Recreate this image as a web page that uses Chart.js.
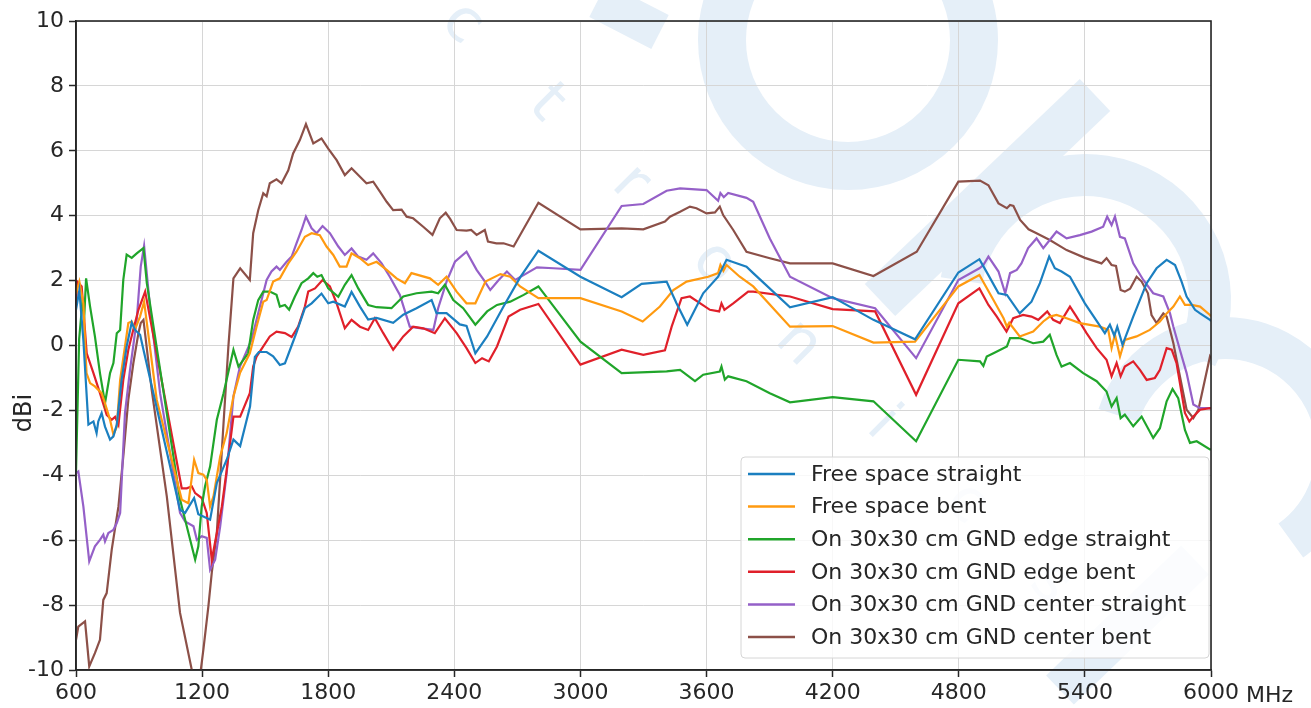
<!DOCTYPE html>
<html>
<head>
<meta charset="utf-8">
<script src="https://cdn.jsdelivr.net/npm/chart.js@4.4.1/dist/chart.umd.min.js"></script>
<style>
  html, body { margin: 0; padding: 0; background: #fff; }
  #wrap { width: 1311px; height: 708px; }
</style>
</head>
<body>
<div id="wrap"><canvas id="gainChart" width="1311" height="708"></canvas></div>
<script>
// Series labels and colours
const seriesNames = [
    'Free space straight',
    'Free space bent',
    'On 30x30 cm GND edge straight',
    'On 30x30 cm GND edge bent',
    'On 30x30 cm GND center straight',
    'On 30x30 cm GND center bent'
];
const seriesColors = ['#1b7fc0', '#ff9a10', '#20a52a', '#e0202a', '#9560c8', '#8c5048'];

// Axis ticks
const xTicks = [600, 1200, 1800, 2400, 3000, 3600, 4200, 4800, 5400, 6000];
const yTicks = [-10, -8, -6, -4, -2, 0, 2, 4, 6, 8, 10];
const xUnit = 'MHz';
const yTitle = 'dBi';

// Free space straight
const fsStraightMHz = [600, 616, 635, 659, 683, 698, 706, 722, 738, 762, 778, 794, 817, 841, 865, 881, 905, 921, 1095, 1119, 1162, 1182, 1206, 1238, 1270, 1317, 1349, 1381, 1428, 1451, 1470, 1507, 1538, 1570, 1594, 1626, 1649, 1689, 1721, 1768, 1800, 1824, 1879, 1911, 1951, 1990, 2030, 2109, 2157, 2220, 2292, 2315, 2363, 2426, 2458, 2500, 2556, 2634, 2713, 2800, 3000, 3196, 3291, 3410, 3457, 3508, 3584, 3655, 3695, 3790, 3822, 3997, 4200, 4394, 4592, 4798, 4898, 4941, 4989, 5029, 5090, 5146, 5186, 5230, 5257, 5289, 5329, 5400, 5495, 5519, 5540, 5554, 5579, 5630, 5694, 5741, 5789, 5829, 5860, 5884, 5924, 5948, 5995, 6000];
const fsStraightDbi = [1.1, 1.7, 0.17, -2.44, -2.34, -2.7, -2.34, -2.08, -2.5, -2.9, -2.8, -2.44, -1.06, -0.03, 0.71, 0.48, 0.33, -0.13, -5.06, -5.16, -4.7, -5.2, -5.27, -5.37, -4.24, -3.52, -2.9, -3.1, -1.88, -0.35, -0.2, -0.2, -0.33, -0.6, -0.55, 0, 0.4, 1.15, 1.3, 1.6, 1.3, 1.35, 1.2, 1.65, 1.2, 0.8, 0.85, 0.7, 0.95, 1.15, 1.4, 1.0, 1.0, 0.65, 0.6, -0.24, 0.28, 1.2, 2.1, 2.92, 2.12, 1.49, 1.9, 1.97, 1.3, 0.64, 1.61, 2.12, 2.64, 2.43, 2.23, 1.18, 1.49, 0.79, 0.19, 2.25, 2.66, 2.17, 1.61, 1.56, 0.99, 1.35, 1.92, 2.74, 2.38, 2.28, 2.12, 1.3, 0.38, 0.64, 0.3, 0.58, 0.02, 0.89, 1.92, 2.38, 2.64, 2.48, 1.97, 1.51, 1.1, 0.99, 0.79, 0.75];

// Free space bent
const fsBentMHz = [600, 616, 635, 650, 667, 690, 722, 738, 762, 778, 794, 810, 833, 849, 865, 881, 905, 924, 984, 1103, 1135, 1162, 1182, 1206, 1222, 1238, 1254, 1286, 1317, 1349, 1380, 1427, 1459, 1491, 1507, 1538, 1570, 1610, 1649, 1689, 1721, 1760, 1792, 1824, 1855, 1887, 1911, 1951, 1990, 2030, 2078, 2125, 2165, 2196, 2284, 2323, 2363, 2411, 2458, 2500, 2548, 2619, 2666, 2713, 2800, 3000, 3196, 3296, 3378, 3442, 3505, 3608, 3655, 3666, 3680, 3695, 3758, 3822, 3997, 4200, 4394, 4592, 4798, 4898, 4965, 5013, 5029, 5040, 5090, 5154, 5202, 5233, 5265, 5313, 5376, 5471, 5511, 5527, 5543, 5567, 5590, 5646, 5709, 5757, 5789, 5821, 5852, 5876, 5908, 5948, 5995, 6000];
const fsBentDbi = [1.6, 1.97, 1.3, -0.85, -1.16, -1.26, -1.47, -1.78, -2.29, -2.75, -2.5, -1.06, -0.03, 0.69, 0.74, 0.5, 0.9, 1.35, -1.67, -4.75, -4.86, -3.52, -3.93, -3.98, -4.14, -4.96, -4.65, -3.42, -2.7, -1.57, -0.85, -0.24, 0.58, 1.35, 1.4, 1.97, 2.07, 2.53, 2.89, 3.35, 3.46, 3.4, 3.05, 2.79, 2.43, 2.43, 2.84, 2.69, 2.48, 2.58, 2.33, 2.07, 1.92, 2.23, 2.07, 1.87, 2.12, 1.66, 1.3, 1.3, 1.97, 2.2, 2.12, 1.82, 1.46, 1.46, 1.05, 0.74, 1.2, 1.71, 1.97, 2.12, 2.23, 2.48, 2.3, 2.48, 2.12, 1.82, 0.58, 0.6, 0.09, 0.12, 1.82, 2.17, 1.4, 0.84, 0.58, 0.7, 0.28, 0.43, 0.74, 0.89, 0.94, 0.84, 0.69, 0.58, 0.48, -0.08, 0.33, -0.34, 0.17, 0.28, 0.48, 0.74, 0.99, 1.2, 1.51, 1.25, 1.25, 1.2, 0.94, 0.9];

// On 30x30 cm GND edge straight
const edgeStraightMHz = [600, 615, 630, 640, 648, 667, 690, 714, 738, 762, 778, 794, 810, 825, 841, 865, 889, 921, 937, 1095, 1167, 1182, 1198, 1214, 1238, 1270, 1302, 1349, 1373, 1419, 1443, 1467, 1491, 1522, 1554, 1570, 1594, 1614, 1641, 1673, 1705, 1729, 1748, 1768, 1800, 1848, 1879, 1911, 1943, 1990, 2030, 2101, 2157, 2220, 2292, 2323, 2355, 2395, 2442, 2500, 2556, 2603, 2666, 2730, 2800, 3000, 3196, 3410, 3474, 3545, 3584, 3663, 3671, 3687, 3703, 3790, 3901, 3997, 4200, 4394, 4597, 4798, 4901, 4917, 4933, 4965, 5029, 5044, 5090, 5154, 5202, 5233, 5265, 5289, 5329, 5392, 5456, 5503, 5527, 5551, 5570, 5590, 5630, 5670, 5725, 5757, 5789, 5817, 5844, 5876, 5900, 5932, 5995, 6000];
const edgeStraightDbi = [-3.9, 0.2, 1.3, 1.0, 2.07, 1.2, 0.28, -0.85, -1.78, -0.85, -0.54, 0.38, 0.48, 2.02, 2.8, 2.7, 2.84, 3.0, 1.92, -4.75, -6.6, -6.19, -4.96, -4.34, -3.73, -2.29, -1.47, -0.13, -0.65, -0.24, 0.79, 1.4, 1.66, 1.66, 1.56, 1.2, 1.25, 1.1, 1.5, 1.92, 2.07, 2.23, 2.12, 2.17, 1.76, 1.5, 1.87, 2.17, 1.76, 1.25, 1.18, 1.15, 1.51, 1.61, 1.66, 1.61, 1.87, 1.4, 1.15, 0.64, 1.05, 1.25, 1.35, 1.56, 1.82, 0.12, -0.85, -0.8, -0.75, -1.1, -0.9, -0.8, -0.65, -1.05, -0.95, -1.1, -1.47, -1.75, -1.59, -1.72, -2.95, -0.44, -0.49, -0.63, -0.34, -0.24, -0.03, 0.23, 0.23, 0.07, 0.12, 0.33, -0.29, -0.65, -0.54, -0.85, -1.1, -1.42, -1.88, -1.62, -2.24, -2.13, -2.49, -2.19, -2.85, -2.55, -1.72, -1.34, -1.62, -2.6, -3.0, -2.95, -3.2, -3.2];

// On 30x30 cm GND edge bent
const edgeBentMHz = [600, 606, 627, 651, 683, 714, 746, 770, 786, 802, 825, 849, 873, 897, 929, 1103, 1127, 1151, 1167, 1198, 1222, 1246, 1270, 1294, 1317, 1349, 1381, 1427, 1443, 1459, 1491, 1522, 1554, 1594, 1626, 1657, 1689, 1705, 1737, 1773, 1808, 1840, 1879, 1911, 1951, 1990, 2022, 2062, 2109, 2157, 2204, 2252, 2307, 2355, 2411, 2458, 2500, 2532, 2564, 2603, 2658, 2713, 2800, 3000, 3196, 3299, 3402, 3434, 3481, 3521, 3616, 3660, 3671, 3685, 3727, 3798, 3822, 3997, 4200, 4402, 4597, 4798, 4898, 4941, 4981, 5027, 5059, 5106, 5146, 5178, 5221, 5249, 5281, 5329, 5360, 5408, 5456, 5503, 5527, 5551, 5570, 5590, 5630, 5662, 5694, 5733, 5757, 5789, 5813, 5836, 5876, 5897, 5916, 5948, 5995, 6000];
const edgeBentDbi = [1.3, 1.97, 1.82, -0.24, -0.85, -1.47, -2.14, -2.29, -2.2, -2.44, -1.06, -0.13, 0.5, 1.1, 1.66, -4.4, -4.4, -4.34, -4.55, -4.7, -5.16, -6.6, -5.78, -4.96, -3.83, -2.19, -2.19, -1.47, -0.65, -0.34, -0.03, 0.28, 0.43, 0.38, 0.26, 0.58, 1.2, 1.66, 1.76, 2.02, 1.82, 1.3, 0.53, 0.79, 0.58, 0.48, 0.84, 0.38, -0.13, 0.28, 0.58, 0.53, 0.38, 0.84, 0.38, -0.08, -0.54, -0.39, -0.49, -0.03, 0.89, 1.1, 1.28, -0.59, -0.13, -0.29, -0.15, 0.58, 1.46, 1.51, 1.1, 1.05, 1.3, 1.1, 1.3, 1.66, 1.66, 1.51, 1.12, 1.05, -1.52, 1.3, 1.76, 1.25, 0.89, 0.43, 0.84, 0.94, 0.89, 0.79, 1.05, 0.79, 0.69, 1.2, 0.89, 0.38, -0.08, -0.44, -0.95, -0.54, -0.95, -0.65, -0.49, -0.75, -1.06, -1.0, -0.75, -0.08, -0.13, -0.54, -2.08, -2.34, -2.19, -1.98, -1.93, -1.95];

// On 30x30 cm GND center straight
const centerStraightMHz = [600, 611, 635, 663, 690, 714, 730, 738, 754, 778, 794, 810, 833, 857, 889, 908, 924, 952, 1000, 1095, 1119, 1159, 1175, 1198, 1222, 1238, 1262, 1286, 1317, 1349, 1380, 1435, 1475, 1507, 1530, 1554, 1570, 1602, 1626, 1649, 1673, 1694, 1721, 1745, 1773, 1808, 1848, 1879, 1911, 1943, 1982, 2014, 2054, 2093, 2141, 2188, 2244, 2300, 2323, 2363, 2403, 2458, 2506, 2540, 2571, 2611, 2650, 2690, 2793, 2872, 3000, 3196, 3299, 3410, 3474, 3600, 3655, 3666, 3682, 3703, 3790, 3822, 3901, 3997, 4200, 4402, 4597, 4798, 4898, 4917, 4941, 4989, 5021, 5044, 5076, 5098, 5130, 5170, 5202, 5233, 5265, 5313, 5376, 5432, 5487, 5506, 5527, 5543, 5567, 5590, 5630, 5678, 5725, 5773, 5805, 5821, 5852, 5884, 5916, 5948, 5995, 6000];
const centerStraightDbi = [-3.93, -3.88, -4.96, -6.65, -6.19, -5.99, -5.83, -6.04, -5.78, -5.68, -5.47, -5.16, -2.08, -0.75, 0.79, 2.43, 3.07, 1.2, -1.47, -5.16, -5.42, -5.57, -5.99, -5.88, -5.93, -6.91, -6.6, -5.57, -3.93, -1.57, -0.65, 0.17, 1.2, 2.02, 2.28, 2.43, 2.33, 2.58, 2.74, 3.15, 3.56, 3.97, 3.61, 3.46, 3.68, 3.46, 3.05, 2.79, 2.99, 2.74, 2.64, 2.84, 2.53, 2.12, 1.56, 0.58, 0.53, 0.48, 1.15, 1.97, 2.58, 2.89, 2.33, 2.02, 1.71, 2.02, 2.28, 2.02, 2.41, 2.38, 2.33, 4.3, 4.36, 4.77, 4.84, 4.79, 4.46, 4.7, 4.57, 4.7, 4.55, 4.43, 3.3, 2.12, 1.46, 1.15, -0.39, 2.02, 2.38, 2.48, 2.74, 2.28, 1.61, 2.23, 2.33, 2.53, 3.0, 3.3, 3.0, 3.25, 3.51, 3.3, 3.4, 3.51, 3.66, 3.97, 3.71, 3.97, 3.35, 3.3, 2.53, 2.02, 1.61, 1.51, 0.99, 0.58, -0.13, -0.85, -1.82, -1.93, -1.93, -1.93];

// On 30x30 cm GND center bent
const centerBentMHz = [600, 611, 643, 663, 690, 714, 730, 746, 770, 802, 825, 849, 873, 897, 908, 921, 960, 1032, 1095, 1151, 1170, 1190, 1206, 1230, 1246, 1270, 1302, 1325, 1349, 1381, 1427, 1443, 1467, 1491, 1507, 1522, 1554, 1578, 1610, 1633, 1665, 1694, 1729, 1768, 1800, 1840, 1879, 1911, 1951, 1982, 2014, 2046, 2078, 2109, 2149, 2173, 2204, 2252, 2296, 2331, 2359, 2380, 2411, 2458, 2480, 2506, 2545, 2560, 2600, 2634, 2682, 2800, 3000, 3196, 3299, 3402, 3426, 3474, 3521, 3552, 3600, 3640, 3663, 3679, 3727, 3790, 3901, 3997, 4200, 4394, 4600, 4798, 4901, 4941, 4989, 5029, 5044, 5060, 5092, 5132, 5170, 5233, 5313, 5400, 5479, 5503, 5527, 5548, 5570, 5590, 5615, 5646, 5670, 5700, 5717, 5741, 5773, 5789, 5821, 5852, 5884, 5916, 5940, 5995, 6000];
const centerBentDbi = [-9.07, -8.66, -8.5, -9.89, -9.48, -9.07, -7.84, -7.63, -6.29, -4.96, -3.42, -1.67, -0.54, 0.38, 0.69, 0.79, -1.36, -4.65, -8.24, -10.0, -10.4, -10.2, -9.37, -8.03, -7.0, -5.78, -2.39, -0.03, 2.07, 2.38, 2.02, 3.46, 4.17, 4.69, 4.6, 5.0, 5.12, 5.0, 5.4, 5.92, 6.33, 6.82, 6.23, 6.38, 6.07, 5.71, 5.25, 5.46, 5.2, 5.0, 5.05, 4.74, 4.43, 4.17, 4.19, 3.97, 3.92, 3.66, 3.41, 3.92, 4.09, 3.9, 3.56, 3.54, 3.56, 3.41, 3.56, 3.2, 3.15, 3.15, 3.05, 4.4, 3.58, 3.61, 3.58, 3.82, 3.97, 4.12, 4.28, 4.23, 4.07, 4.1, 4.28, 4.02, 3.56, 2.89, 2.69, 2.53, 2.53, 2.14, 2.89, 5.05, 5.08, 4.94, 4.38, 4.23, 4.33, 4.3, 3.87, 3.58, 3.46, 3.25, 2.94, 2.7, 2.53, 2.69, 2.48, 2.45, 1.71, 1.66, 1.75, 2.12, 1.97, 1.61, 0.94, 0.69, 0.99, 0.89, 0.07, -0.95, -1.98, -2.24, -1.98, -0.34, -0.4];

const seriesMHz = [fsStraightMHz, fsBentMHz, edgeStraightMHz, edgeBentMHz, centerStraightMHz, centerBentMHz];
const seriesDbi = [fsStraightDbi, fsBentDbi, edgeStraightDbi, edgeBentDbi, centerStraightDbi, centerBentDbi];

const FONT = "'DejaVu Sans', 'Liberation Sans', sans-serif";
const TEXT = '#262626';
const WATERMARK = '#e5eff8';

// Light blue logo behind the plot
const watermarkPlugin = {
    id: 'watermark',
    beforeDraw(chart) {
        const c = chart.ctx;
        c.save();
        c.fillStyle = '#ffffff';
        c.fillRect(0, 0, chart.width, chart.height);
        c.strokeStyle = WATERMARK;
        c.fillStyle = WATERMARK;
        c.lineCap = 'butt';

        c.lineWidth = 48;
        c.beginPath();
        c.arc(848, 40, 126, 0, Math.PI * 2);
        c.stroke();

        c.lineWidth = 44;
        c.beginPath();
        c.moveTo(1095, 95);
        c.lineTo(880, 300);
        c.stroke();

        c.lineWidth = 42;
        c.beginPath();
        c.arc(1085, 300, 125, Math.PI * 1.05, Math.PI * 2.15);
        c.stroke();

        c.beginPath();
        c.arc(1225, 450, 112, Math.PI * 1.1, Math.PI * 2.3);
        c.stroke();

        c.lineWidth = 40;
        c.beginPath();
        c.moveTo(1195, 560);
        c.lineTo(1060, 690);
        c.stroke();

        c.lineWidth = 38;
        c.beginPath();
        c.moveTo(598, 0);
        c.lineTo(660, 32);
        c.stroke();

        // "ctronics" along the diagonal
        const letters = 'ctronics';
        c.font = '60px ' + FONT;
        c.textAlign = 'center';
        c.textBaseline = 'middle';
        for (let i = 0; i < letters.length; i++) {
            c.save();
            c.translate(462 + i * 84, 24 + i * 80);
            c.rotate(Math.PI / 4);
            c.fillText(letters[i], 0, 0);
            c.restore();
        }
        c.restore();
    }
};

// Frame, axis title, unit and legend box
const framePlugin = {
    id: 'frame',
    afterDraw(chart) {
        const c = chart.ctx;
        const a = chart.chartArea;
        const xs = chart.scales.x;
        c.save();
        c.strokeStyle = TEXT;
        c.lineWidth = 1.6;
        c.strokeRect(a.left, a.top, a.right - a.left, a.bottom - a.top);

        c.fillStyle = TEXT;
        c.font = '22px ' + FONT;
        c.textBaseline = 'alphabetic';
        c.textAlign = 'left';
        const lastX = xs.getPixelForValue(xTicks[xTicks.length - 1]);
        const half = c.measureText(String(xTicks[xTicks.length - 1])).width / 2;
        c.fillText(xUnit, lastX + half + c.measureText(' ').width, 702);

        c.save();
        c.translate(31, 413);
        c.rotate(-Math.PI / 2);
        c.textAlign = 'center';
        c.font = '24px ' + FONT;
        c.fillText(yTitle, 0, 0);
        c.restore();

        // legend
        const lx = 741, ly = 457, lw = 468, lh = 201, r = 4;
        c.beginPath();
        c.moveTo(lx + r, ly);
        c.arcTo(lx + lw, ly, lx + lw, ly + lh, r);
        c.arcTo(lx + lw, ly + lh, lx, ly + lh, r);
        c.arcTo(lx, ly + lh, lx, ly, r);
        c.arcTo(lx, ly, lx + lw, ly, r);
        c.closePath();
        c.fillStyle = 'rgba(255,255,255,0.82)';
        c.fill();
        c.strokeStyle = '#d6d6d6';
        c.lineWidth = 1;
        c.stroke();

        c.font = '22px ' + FONT;
        c.textBaseline = 'middle';
        chart.data.datasets.forEach((ds, i) => {
            const y = 474 + i * 32.6;
            c.strokeStyle = ds.borderColor;
            c.lineWidth = 2.5;
            c.beginPath();
            c.moveTo(748, y);
            c.lineTo(795, y);
            c.stroke();
            c.fillStyle = TEXT;
            c.fillText(ds.label, 811, y + 1);
        });
        c.restore();
    }
};

const datasets = seriesNames.map((name, i) => ({
    label: name,
    data: seriesMHz[i].map((f, k) => ({ x: f, y: seriesDbi[i][k] })),
    borderColor: seriesColors[i],
    backgroundColor: seriesColors[i],
    borderWidth: 2.2,
    pointRadius: 0,
    tension: 0,
    fill: false
}));

const ctx = document.getElementById('gainChart').getContext('2d');
const gainChart = new Chart(ctx, {
    type: 'line',
    data: { datasets: datasets },
    options: {
        responsive: false,
        animation: false,
        events: [],
        layout: { padding: { left: 0, right: 100, top: 21, bottom: 0 } },
        plugins: {
            legend: { display: false },
            tooltip: { enabled: false }
        },
        scales: {
            x: {
                type: 'linear',
                min: xTicks[0],
                max: xTicks[xTicks.length - 1],
                afterBuildTicks: (scale) => { scale.ticks = xTicks.map(v => ({ value: v })); },
                afterFit: (scale) => { scale.height = 38; },
                grid: { color: '#d6d6d6', lineWidth: 1, tickColor: TEXT, tickLength: 7, tickWidth: 1.5 },
                border: { color: TEXT, width: 1.6 },
                ticks: {
                    color: TEXT,
                    font: { family: FONT, size: 22 },
                    padding: 3,
                    maxRotation: 0,
                    autoSkip: false,
                    callback: (v) => String(v)
                }
            },
            y: {
                min: yTicks[0],
                max: yTicks[yTicks.length - 1],
                afterBuildTicks: (scale) => { scale.ticks = yTicks.map(v => ({ value: v })); },
                afterFit: (scale) => { scale.width = 76; },
                grid: { color: '#d6d6d6', lineWidth: 1, tickColor: TEXT, tickLength: 7, tickWidth: 1.5 },
                border: { color: TEXT, width: 1.6 },
                ticks: {
                    color: TEXT,
                    font: { family: FONT, size: 22 },
                    padding: 5,
                    autoSkip: false,
                    callback: (v) => String(v)
                }
            }
        }
    },
    plugins: [watermarkPlugin, framePlugin]
});
</script>
</body>
</html>
